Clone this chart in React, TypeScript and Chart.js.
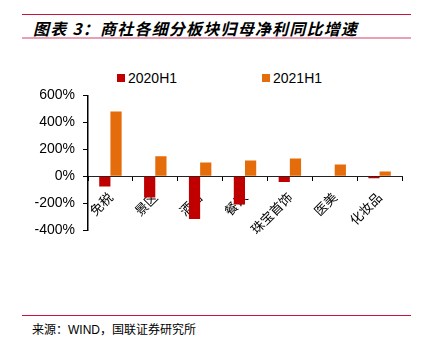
import React, { useEffect, useRef } from "react";
import { Chart, registerables } from "chart.js";

Chart.register(...registerables);

const categories = ["免税", "景区", "酒店", "餐饮", "珠宝首饰", "医美", "化妆品"];
const series2020H1 = [-75, -157, -317, -208, -42, -3, -14];
const series2021H1 = [480, 148, 103, 118, 133, 88, 35];
const yTicks = [-400, -200, 0, 200, 400, 600];
const seriesNames = ["2020H1", "2021H1"];
const seriesColors = ["#C00000", "#E46C0A"];

export default function App() {
  const canvasRef = useRef<HTMLCanvasElement | null>(null);

  useEffect(() => {
    document.body.style.margin = "0";
    const ctx = canvasRef.current!.getContext("2d")!;
    const chart = new Chart(ctx, {
      type: "bar",
      data: {
        labels: categories,
        datasets: [
          { label: seriesNames[0], data: series2020H1, backgroundColor: seriesColors[0] },
          { label: seriesNames[1], data: series2021H1, backgroundColor: seriesColors[1] },
        ],
      },
      options: {
        animation: false,
        responsive: false,
        maintainAspectRatio: false,
        events: [],
        layout: { padding: { top: 10, right: 23, bottom: 16.7, left: 0 } },
        datasets: { bar: { categoryPercentage: 0.5, barPercentage: 1 } },
        plugins: { legend: { display: false }, tooltip: { enabled: false }, title: { display: false } },
        scales: {
          x: {
            position: { y: 0 } as any,
            grid: { drawOnChartArea: false, tickLength: 4, color: "#000", offset: true },
            border: { display: true, color: "#222", width: 1 },
            ticks: {
              color: "#000",
              minRotation: 45,
              maxRotation: 45,
              autoSkip: false,
              padding: 9,
              font: { family: "'Noto Sans CJK SC'", size: 13 },
            },
          },
          y: {
            min: -400,
            max: 600,
            afterFit: (s: any) => { s.width = 88; },
            afterBuildTicks: (s: any) => { s.ticks = yTicks.map((v) => ({ value: v })); },
            grid: { drawOnChartArea: false, tickLength: 5, color: "#000" },
            border: { display: true, color: "#000", width: 1.5 },
            ticks: {
              color: "#000",
              padding: 8,
              font: { family: "'Liberation Sans', Arial", size: 14 },
              callback: (v: any) => v + "%",
            },
          },
        },
      },
    });
    return () => chart.destroy();
  }, []);

  const lineColor = "#C8143C";
  return (
    <div style={{ position: "relative", width: 425, height: 352, background: "#fff", overflow: "hidden" }}>
      <div style={{ position: "absolute", left: 22, top: 13.5, width: 389, height: 1, background: lineColor }} />
      <div
        style={{
          position: "absolute",
          left: 33,
          top: 18,
          fontFamily: "'Noto Sans CJK SC'",
          fontWeight: "bold",
          fontStyle: "italic",
          fontSize: 16,
          letterSpacing: "1.2px",
          lineHeight: "20px",
          color: "#000",
          whiteSpace: "nowrap",
        }}
      >
        图表 3：商社各细分板块归母净利同比增速
      </div>
      <div style={{ position: "absolute", left: 22, top: 37, width: 389, height: 2, background: "#E8A0B2" }} />

      {seriesNames.map((n, i) => (
        <div
          key={n}
          style={{
            position: "absolute",
            left: i === 0 ? 117 : 262,
            top: 70,
            height: 16,
            display: "flex",
            alignItems: "center",
            fontFamily: "'Liberation Sans', Arial",
            fontSize: 14,
            color: "#000",
            whiteSpace: "nowrap",
          }}
        >
          <span style={{ display: "inline-block", width: 8, height: 8, background: seriesColors[i], marginRight: 3 }} />
          {n}
        </div>
      ))}

      <canvas
        ref={canvasRef}
        width={425}
        height={168}
        style={{ position: "absolute", left: 0, top: 79, width: 425, height: 168 }}
      />

      <div style={{ position: "absolute", left: 22, top: 314.5, width: 389, height: 1, background: lineColor }} />
      <div
        style={{
          position: "absolute",
          left: 32,
          top: 321,
          fontFamily: "'Noto Sans CJK SC'",
          fontSize: 12,
          lineHeight: "16px",
          color: "#000",
          whiteSpace: "nowrap",
        }}
      >
        来源：<span style={{ fontFamily: "'Liberation Sans', Arial", fontSize: 12 }}>WIND</span>，国联证券研究所
      </div>
    </div>
  );
}
